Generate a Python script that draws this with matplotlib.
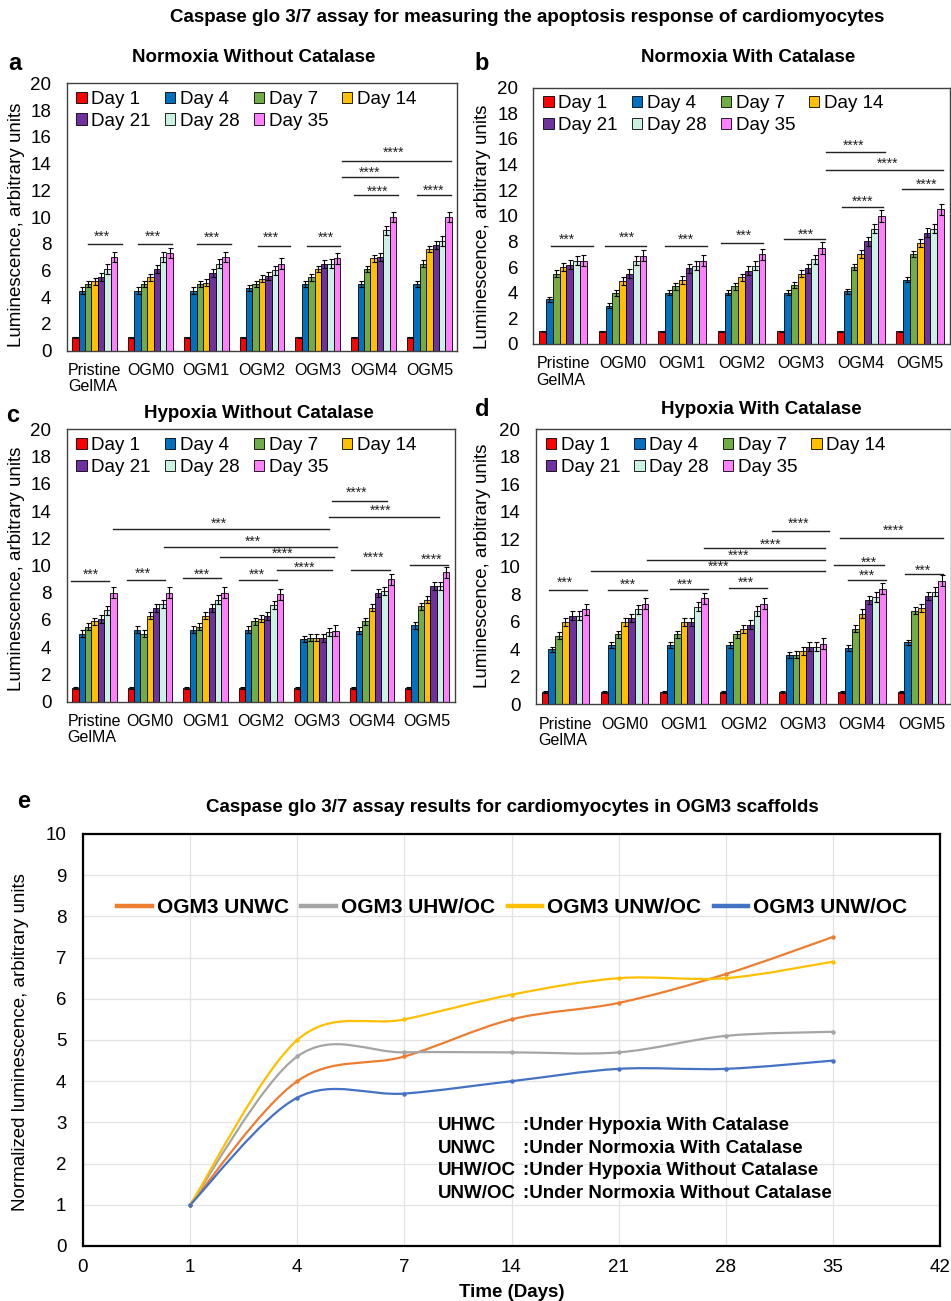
import numpy as np
import matplotlib
matplotlib.use('Agg')
import matplotlib.pyplot as plt
from matplotlib.path import Path
from matplotlib.patches import PathPatch
from matplotlib.lines import Line2D

plt.rcParams['font.family'] = ['Liberation Sans', 'DejaVu Sans']

W, H = 951, 1301

# ---- data -------------------------------------------------------------
groups = ['Pristine\nGelMA', 'OGM0', 'OGM1', 'OGM2', 'OGM3', 'OGM4', 'OGM5']
days = ['Day 1', 'Day 4', 'Day 7', 'Day 14', 'Day 21', 'Day 28', 'Day 35']
day_colors = ['#FF0000', '#0070C0', '#70AD47', '#FFC000', '#7030A0', '#C9F2E0', '#FF80FF']

# rows = scaffold, columns = day
norm_no_cat = [
    [1.0, 4.5, 5.0, 5.2, 5.5, 6.1, 7.0],
    [1.0, 4.5, 5.0, 5.5, 6.1, 7.0, 7.3],
    [1.0, 4.5, 5.0, 5.1, 5.8, 6.5, 7.0],
    [1.0, 4.7, 5.0, 5.4, 5.6, 6.0, 6.5],
    [1.0, 5.0, 5.5, 6.1, 6.5, 6.5, 6.9],
    [1.0, 5.0, 6.1, 6.9, 7.0, 9.0, 10.0],
    [1.0, 5.0, 6.5, 7.6, 7.9, 8.2, 10.0],
]
norm_no_cat_err = [0.06, 0.25, 0.25, 0.25, 0.3, 0.35, 0.4]

norm_cat = [
    [1.0, 3.5, 5.5, 6.0, 6.2, 6.5, 6.5],
    [1.0, 3.0, 4.0, 4.9, 5.5, 6.5, 6.9],
    [1.0, 4.0, 4.5, 5.0, 5.9, 6.1, 6.5],
    [1.0, 4.0, 4.5, 5.2, 5.7, 6.1, 7.0],
    [1.0, 4.0, 4.6, 5.5, 5.9, 6.6, 7.5],
    [1.0, 4.1, 6.0, 7.0, 8.0, 9.0, 10.0],
    [1.0, 5.0, 7.0, 7.9, 8.7, 9.0, 10.5],
]
norm_cat_err = [0.05, 0.2, 0.25, 0.3, 0.35, 0.35, 0.45]

hyp_no_cat = [
    [1.0, 5.0, 5.5, 5.9, 6.1, 6.7, 8.0],
    [1.0, 5.3, 5.0, 6.3, 6.9, 7.2, 8.0],
    [1.0, 5.3, 5.5, 6.3, 6.9, 7.5, 8.0],
    [1.0, 5.3, 5.9, 6.1, 6.3, 7.1, 7.9],
    [1.0, 4.6, 4.7, 4.7, 4.7, 5.1, 5.2],
    [1.0, 5.2, 5.9, 6.9, 8.0, 8.1, 9.0],
    [1.0, 5.6, 7.0, 7.5, 8.5, 8.5, 9.5],
]
hyp_no_cat_err = [0.05, 0.25, 0.25, 0.25, 0.3, 0.3, 0.4]

hyp_cat = [
    [0.9, 4.0, 5.0, 6.0, 6.45, 6.45, 6.9],
    [0.9, 4.3, 5.1, 6.0, 6.3, 6.9, 7.3],
    [0.9, 4.3, 5.1, 6.0, 6.0, 7.1, 7.7],
    [0.9, 4.3, 5.1, 5.5, 5.8, 6.8, 7.3],
    [0.9, 3.6, 3.6, 3.9, 4.2, 4.2, 4.4],
    [0.9, 4.1, 5.5, 6.6, 7.6, 7.8, 8.4],
    [0.9, 4.5, 6.8, 7.0, 7.9, 8.2, 9.0],
]
hyp_cat_err = [0.05, 0.2, 0.25, 0.3, 0.3, 0.35, 0.4]

# significance brackets: (x start, x end, y, star x, star y, label)
sig_a = [
    (-0.11, 0.49, 7.95, 0.13, 8.83, '***'),
    (0.78, 1.39, 7.95, 1.05, 8.83, '***'),
    (1.84, 2.44, 7.95, 2.10, 8.70, '***'),
    (2.92, 3.51, 7.83, 3.16, 8.70, '***'),
    (3.80, 4.40, 7.83, 4.15, 8.70, '***'),
    (4.43, 6.38, 14.2, 5.35, 15.1, '****'),
    (4.43, 5.44, 12.97, 4.92, 13.57, '****'),
    (4.65, 5.44, 11.62, 5.07, 12.17, '****'),
    (5.78, 6.38, 11.67, 6.08, 12.27, '****'),
]
sig_b = [
    (-0.20, 0.50, 7.65, 0.07, 8.43, '***'),
    (0.70, 1.40, 7.65, 1.07, 8.56, '***'),
    (1.71, 2.41, 7.65, 2.07, 8.45, '***'),
    (2.66, 3.36, 7.90, 3.03, 8.74, '***'),
    (3.71, 4.40, 8.22, 4.08, 8.84, '***'),
    (4.68, 5.38, 10.7, 5.03, 11.4, '****'),
    (4.42, 5.40, 15.0, 4.88, 15.76, '****'),
    (4.42, 6.39, 13.58, 5.45, 14.36, '****'),
    (5.69, 6.39, 12.07, 6.10, 12.7, '****'),
]
sig_c = [
    (-0.42, 0.27, 8.84, -0.07, 9.57, '***'),
    (0.58, 1.27, 8.96, 0.87, 9.67, '***'),
    (1.60, 2.29, 9.06, 1.93, 9.60, '***'),
    (2.60, 3.29, 8.96, 2.93, 9.60, '***'),
    (3.29, 4.28, 9.67, 3.78, 10.09, '****'),
    (2.26, 4.32, 10.65, 3.39, 11.14, '****'),
    (1.25, 4.37, 11.33, 2.85, 12.0, '***'),
    (0.34, 4.22, 12.68, 2.25, 13.34, '***'),
    (4.29, 5.27, 14.76, 4.73, 15.6, '****'),
    (4.23, 6.21, 13.59, 5.15, 14.27, '****'),
    (4.63, 5.32, 9.67, 5.03, 10.8, '****'),
    (5.69, 6.38, 10.04, 6.08, 10.7, '****'),
]
sig_d = [
    (-0.27, 0.37, 8.32, 0.00, 9.10, '***'),
    (0.72, 1.37, 8.32, 1.06, 8.99, '***'),
    (1.77, 2.41, 8.39, 2.02, 8.99, '***'),
    (2.76, 3.40, 8.44, 3.05, 9.10, '***'),
    (0.44, 4.38, 9.70, 2.59, 10.23, '****'),
    (1.38, 4.38, 10.5, 2.92, 11.08, '****'),
    (2.33, 4.37, 11.37, 3.46, 11.83, '****'),
    (3.49, 4.45, 12.6, 3.93, 13.4, '****'),
    (4.63, 6.36, 12.12, 5.53, 12.85, '****'),
    (4.52, 5.37, 10.13, 5.11, 10.55, '***'),
    (4.77, 5.40, 9.04, 5.08, 9.62, '***'),
    (5.73, 6.36, 9.45, 6.02, 10.0, '***'),
]

# panel e
time_days = ['1', '4', '7', '14', '21', '28', '35']
time_ticks = ['0', '1', '4', '7', '14', '21', '28', '35', '42']
ogm3_unwc = [1.0, 4.0, 4.6, 5.5, 5.9, 6.6, 7.5]
ogm3_uhwoc = [1.0, 4.6, 4.7, 4.7, 4.7, 5.1, 5.2]
ogm3_unwoc_y = [1.0, 5.0, 5.5, 6.1, 6.5, 6.5, 6.9]
ogm3_unwoc_b = [1.0, 3.6, 3.7, 4.0, 4.3, 4.3, 4.5]
line_series = [
    ('OGM3 UNWC', ogm3_unwc, '#ED7D31'),
    ('OGM3 UHW/OC', ogm3_uhwoc, '#A5A5A5'),
    ('OGM3 UNW/OC', ogm3_unwoc_y, '#FFC000'),
    ('OGM3 UNW/OC', ogm3_unwoc_b, '#4472C4'),
]
abbrevs = ['UHWC', 'UNWC', 'UHW/OC', 'UNW/OC']
meanings = [':Under Hypoxia With Catalase', ':Under Normoxia With Catalase',
            ':Under Hypoxia Without Catalase', ':Under Normoxia Without Catalase']

# ---- helpers ----------------------------------------------------------
fig = plt.figure(figsize=(W / 100, H / 100), dpi=100)


def rect(l, r, t, b):
    return [l / W, 1 - b / H, (r - l) / W, (b - t) / H]


def fpos(x, y):
    return x / W, 1 - y / H


def bar_panel(box, vals, errs, sigs, title, title_xy, letter, letter_xy, ylab_xy):
    ax = fig.add_axes(rect(*box))
    vals = np.asarray(vals)
    x = np.arange(len(groups))
    w = 0.8 / len(days)
    handles = []
    for j, d in enumerate(days):
        h = ax.bar(x - 0.4 + w * (j + 0.5), vals[:, j], w, yerr=errs[j],
                   color=day_colors[j], edgecolor='black', linewidth=0.6, label=d,
                   error_kw=dict(ecolor='black', elinewidth=0.8, capsize=1.8, capthick=0.8))
        handles.append(h)
    ax.set_xlim(-0.5, len(groups) - 0.5)
    ax.set_ylim(0, 20)
    ax.set_yticks(range(0, 21, 2))
    ax.set_xticks(x)
    ax.set_xticklabels(groups, fontsize=11.5, multialignment='left', linespacing=1.1)
    ax.tick_params(axis='y', length=0, pad=11, labelsize=13.5)
    ax.tick_params(axis='x', length=0, pad=9)
    for s in ax.spines.values():
        s.set_color('#404040')
        s.set_linewidth(1.0)

    order = [0, 4, 1, 5, 2, 6, 3]
    ax.legend([handles[i] for i in order], [days[i] for i in order], ncol=4,
              loc='upper left', bbox_to_anchor=(0.015, 0.985), frameon=False,
              fontsize=13.5, handlelength=0.55, handleheight=0.55, handletextpad=0.25,
              columnspacing=0.75, labelspacing=0.25, borderaxespad=0, borderpad=0.2)

    for x0, x1, y, tx, ty, lab in sigs:
        ax.plot([x0, x1], [y, y], color='#222222', lw=1.0)
        ax.annotate(lab, (tx, ty), xytext=(0, -5.5), textcoords='offset points',
                    ha='center', va='baseline', fontsize=10, color='#222222')

    fig.text(*fpos(*title_xy), title, ha='center', va='center', fontsize=13.5, fontweight='bold')
    fig.text(*fpos(*letter_xy), letter, ha='center', va='center', fontsize=17, fontweight='bold')
    fig.text(*fpos(*ylab_xy), 'Luminescence, arbitrary units', rotation=90,
             ha='center', va='center', fontsize=13.5)
    return ax


fig.text(*fpos(527, 18), 'Caspase glo 3/7 assay for measuring the apoptosis response of cardiomyocytes',
         ha='center', va='center', fontsize=13.5, fontweight='bold')

bar_panel((66.7, 457.3, 83.3, 350.7), norm_no_cat, norm_no_cat_err, sig_a,
          'Normoxia Without Catalase', (254, 57), 'a', (15, 63), (17, 225))
bar_panel((533.3, 950, 87.7, 344), norm_cat, norm_cat_err, sig_b,
          'Normoxia With Catalase', (748, 58), 'b', (482, 63), (483, 227))
bar_panel((66.7, 455, 429.3, 701.7), hyp_no_cat, hyp_no_cat_err, sig_c,
          'Hypoxia Without Catalase', (259, 413), 'c', (13, 415), (17, 569))
bar_panel((535.7, 951, 429.3, 704.3), hyp_cat, hyp_cat_err, sig_d,
          'Hypoxia With Catalase', (761, 410), 'd', (482, 409), (483, 566))


# ---- panel e ----------------------------------------------------------
def smooth_path(xs, ys):
    pts = np.column_stack([xs, ys]).astype(float)
    n = len(pts)
    verts = [pts[0]]
    codes = [Path.MOVETO]
    for i in range(n - 1):
        p0 = pts[i - 1] if i > 0 else pts[i]
        p1, p2 = pts[i], pts[i + 1]
        p3 = pts[i + 2] if i + 2 < n else pts[i + 1]
        verts += [p1 + (p2 - p0) / 6, p2 - (p3 - p1) / 6, p2]
        codes += [Path.CURVE4] * 3
    return Path(verts, codes)


axe = fig.add_axes(rect(83, 940, 834, 1246))
xpos = np.arange(1, len(time_days) + 1)
handles = []
for name, ys, col in line_series:
    axe.add_patch(PathPatch(smooth_path(xpos, ys), facecolor='none', edgecolor=col, lw=1.6))
    axe.plot(xpos, ys, ls='none', marker='o', ms=2.2, color=col)
    handles.append(Line2D([], [], color=col, lw=3.2))

axe.set_xlim(0, len(time_ticks) - 1)
axe.set_ylim(0, 10)
axe.set_xticks(np.arange(len(time_ticks)))
axe.set_xticklabels(time_ticks)
axe.set_yticks(range(0, 11))
axe.grid(True, color='#e3e3e3', lw=0.9)
axe.set_axisbelow(True)
axe.tick_params(length=0, labelsize=13.5)
axe.tick_params(axis='y', pad=12)
axe.tick_params(axis='x', pad=9)
for s in axe.spines.values():
    s.set_color('black')
    s.set_linewidth(1.6)
axe.set_xlabel('Time (Days)', fontsize=13.5, fontweight='bold', labelpad=6)

axe.legend(handles, [s[0] for s in line_series], ncol=4, loc='center',
           bbox_to_anchor=(0.501, 0.821), frameon=False,
           prop=dict(size=15, weight='bold'), handlelength=1.65, handletextpad=0.25,
           columnspacing=0.6, borderaxespad=0, borderpad=0)

for k, (ab, mean) in enumerate(zip(abbrevs, meanings)):
    yy = 1125.5 + k * 22.7
    fig.text(*fpos(438, yy), ab, ha='left', va='center', fontsize=13.5, fontweight='bold')
    fig.text(*fpos(523, yy), mean, ha='left', va='center', fontsize=13.5, fontweight='bold')

fig.text(*fpos(512, 808), 'Caspase glo 3/7 assay results for cardiomyocytes in OGM3 scaffolds',
         ha='center', va='center', fontsize=13.5, fontweight='bold')
fig.text(*fpos(24, 802), 'e', ha='center', va='center', fontsize=17, fontweight='bold')
fig.text(*fpos(21, 1042), 'Normalized luminescence, arbitrary units', rotation=90,
         ha='center', va='center', fontsize=13.5)

fig.savefig('out.png', dpi=100)
plt.close(fig)
